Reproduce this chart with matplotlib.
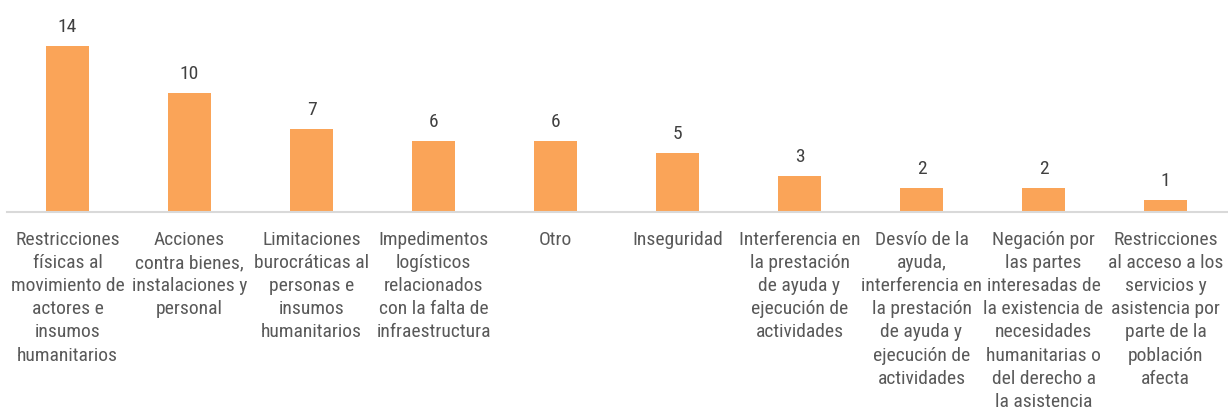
import matplotlib
matplotlib.use("Agg")
import matplotlib.pyplot as plt
from matplotlib import font_manager

# Data
categories = [
    "Restricciones\nfísicas al\nmovimiento de\nactores e\ninsumos\nhumanitarios",
    "Acciones\ncontra bienes,\ninstalaciones y\npersonal",
    "Limitaciones\nburocráticas al\npersonas e\ninsumos\nhumanitarios",
    "Impedimentos\nlogísticos\nrelacionados\ncon la falta de\ninfraestructura",
    "Otro",
    "Inseguridad",
    "Interferencia en\nla prestación\nde ayuda y\nejecución de\nactividades",
    "Desvío de la\nayuda,\ninterferencia en\nla prestación\nde ayuda y\nejecución de\nactividades",
    "Negación por\nlas partes\ninteresadas de\nla existencia de\nnecesidades\nhumanitarias o\ndel derecho a\nla asistencia",
    "Restricciones\nal acceso a los\nservicios y\nasistencia por\nparte de la\npoblación\nafecta",
]
values = [14, 10, 7, 6, 6, 5, 3, 2, 2, 1]

available = {f.name for f in font_manager.fontManager.ttflist}
family = "Roboto Condensed" if "Roboto Condensed" in available else "Roboto"
plt.rcParams["font.family"] = [family, "DejaVu Sans"]

W, H, DPI = 1228, 410, 100
fig = plt.figure(figsize=(W / DPI, H / DPI), dpi=DPI)
base_px = 213
px_per_unit = 11.86
ax = fig.add_axes([6.5 / W, (H - base_px) / H, 1220 / W, base_px / H])

x = list(range(len(values)))
ax.bar(x, values, width=43 / 122, color="#FAA458", zorder=2)
for xi, v in zip(x, values):
    ax.annotate(str(v), (xi, v), xytext=(0, 8), textcoords="offset points",
                ha="center", va="bottom", fontsize=14, color="#404040")

ax.set_xlim(-0.5, len(values) - 0.5)
ax.set_ylim(0, base_px / px_per_unit)
ax.set_xticks(x)
ax.set_xticklabels(categories, fontsize=14, color="#595959", linespacing=1.365)
ax.tick_params(axis="x", length=0, pad=13)
ax.set_yticks([])
for s in ["top", "right", "left"]:
    ax.spines[s].set_visible(False)
ax.spines["bottom"].set_color("#D9D9D9")
ax.spines["bottom"].set_linewidth(1.5)

fig.savefig("out.png", dpi=DPI, facecolor="white")
